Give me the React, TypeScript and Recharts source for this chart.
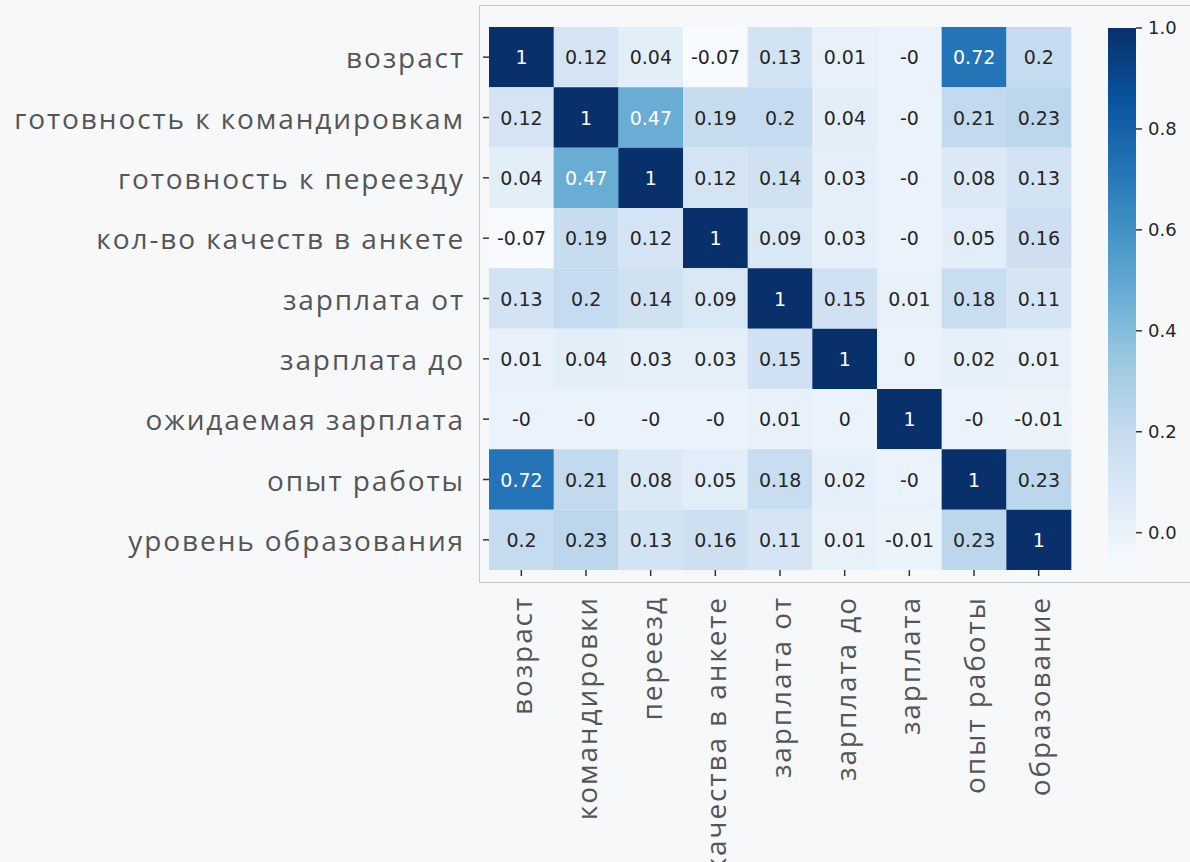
import React from "react";
import { BarChart, Bar, XAxis, YAxis, Cell, LabelList } from "recharts";

const rowLabels = [
  "возраст",
  "готовность к командировкам",
  "готовность к переезду",
  "кол-во качеств в анкете",
  "зарплата от",
  "зарплата до",
  "ожидаемая зарплата",
  "опыт работы",
  "уровень образования",
];

const colLabels = [
  "возраст",
  "командировки",
  "переезд",
  "качества в анкете",
  "зарплата от",
  "зарплата до",
  "зарплата",
  "опыт работы",
  "образование",
];

// correlation rows (small negatives shown as "-0")
const rowAge = [1, 0.12, 0.04, -0.07, 0.13, 0.01, -0.002, 0.72, 0.2];
const rowTrips = [0.12, 1, 0.47, 0.19, 0.2, 0.04, -0.002, 0.21, 0.23];
const rowMove = [0.04, 0.47, 1, 0.12, 0.14, 0.03, -0.002, 0.08, 0.13];
const rowQual = [-0.07, 0.19, 0.12, 1, 0.09, 0.03, -0.002, 0.05, 0.16];
const rowSalFrom = [0.13, 0.2, 0.14, 0.09, 1, 0.15, 0.01, 0.18, 0.11];
const rowSalTo = [0.01, 0.04, 0.03, 0.03, 0.15, 1, 0.002, 0.02, 0.01];
const rowSalExp = [-0.002, -0.002, -0.002, -0.002, 0.01, 0.002, 1, -0.002, -0.01];
const rowExp = [0.72, 0.21, 0.08, 0.05, 0.18, 0.02, -0.002, 1, 0.23];
const rowEdu = [0.2, 0.23, 0.13, 0.16, 0.11, 0.01, -0.01, 0.23, 1];

const matrix = [rowAge, rowTrips, rowMove, rowQual, rowSalFrom, rowSalTo, rowSalExp, rowExp, rowEdu];

const colorbarTicks = [0, 0.2, 0.4, 0.6, 0.8, 1.0];
const vmin = -0.07;
const vmax = 1;

const BLUES = ["#f7fbff", "#deebf7", "#c6dbef", "#9ecae1", "#6baed6", "#4292c6", "#2171b5", "#08519c", "#08306b"];

function hexToRgb(h: string) {
  return [parseInt(h.slice(1, 3), 16), parseInt(h.slice(3, 5), 16), parseInt(h.slice(5, 7), 16)];
}
function blues(t: number) {
  const tt = Math.max(0, Math.min(1, t));
  const pos = tt * (BLUES.length - 1);
  const i = Math.min(BLUES.length - 2, Math.floor(pos));
  const f = pos - i;
  const a = hexToRgb(BLUES[i]);
  const b = hexToRgb(BLUES[i + 1]);
  return a.map((v, k) => Math.round(v + (b[k] - v) * f));
}
function colorFor(v: number) {
  const c = blues((v - vmin) / (vmax - vmin));
  return `rgb(${c[0]},${c[1]},${c[2]})`;
}
function textColorFor(v: number) {
  const c = blues((v - vmin) / (vmax - vmin)).map((x) => {
    const s = x / 255;
    return s <= 0.03928 ? s / 12.92 : Math.pow((s + 0.055) / 1.055, 2.4);
  });
  const lum = 0.2126 * c[0] + 0.7152 * c[1] + 0.0722 * c[2];
  return lum > 0.408 ? "#262626" : "#ffffff";
}
function fmt(v: number) {
  const r = Math.round(v * 100) / 100;
  if (r === 0) return v < 0 ? "-0" : "0";
  return String(r);
}

const data = colLabels.map((name) => {
  const o: any = { name };
  rowLabels.forEach((_, r) => (o[`r${r}`] = 1));
  return o;
});

const LABEL_FONT = "'Open Sans', sans-serif";
const NUM_FONT = "'DejaVu Sans', sans-serif";

const YTick = (props: any) => {
  const { x, y, payload } = props;
  const idx = Math.floor(payload.value);
  return (
    <text
      x={x}
      y={y}
      textAnchor="end"
      dominantBaseline="central"
      fontFamily={LABEL_FONT}
      fontSize={28}
      letterSpacing={1.9}
      fill="#555555"
    >
      {rowLabels[idx]}
    </text>
  );
};

const XTick = (props: any) => {
  const { x, y, payload } = props;
  return (
    <text
      x={x}
      y={y}
      transform={`rotate(-90, ${x}, ${y})`}
      textAnchor="end"
      dominantBaseline="central"
      fontFamily={LABEL_FONT}
      fontSize={28}
      letterSpacing={1.9}
      fill="#555555"
    >
      {payload.value}
    </text>
  );
};

const makeAnnot = (r: number) => (props: any) => {
  const { x, y, width, height, index } = props;
  const v = matrix[r][index];
  return (
    <text
      x={x + width / 2}
      y={y + height / 2}
      textAnchor="middle"
      dominantBaseline="central"
      fontFamily={NUM_FONT}
      fontSize={19}
      fill={textColorFor(v)}
    >
      {fmt(v)}
    </text>
  );
};

const cbData = [{ name: "cb", range: [vmin, vmax] }];

export default function App() {
  return (
    <div
      style={{
        position: "fixed",
        left: 0,
        top: 0,
        width: 1190,
        height: 862,
        overflow: "hidden",
        background: "#f7f8fa",
      }}
    >
      <div
        style={{
          position: "absolute",
          left: 479,
          top: 5,
          width: 900,
          height: 576,
          borderTop: "1px solid #c9c9c9",
          borderLeft: "1px solid #c9c9c9",
          borderBottom: "1px solid #c9c9c9",
        }}
      />
      <div style={{ position: "absolute", left: 0, top: 0 }}>
        <BarChart
          width={1190}
          height={862}
          data={data}
          margin={{ top: 27, right: 119, bottom: 0, left: 0 }}
          barCategoryGap={0}
          barGap={0}
        >
          <XAxis
            dataKey="name"
            height={292}
            interval={0}
            tickSize={6}
            tickMargin={20}
            axisLine={false}
            tickLine={{ stroke: "#333333", strokeWidth: 1.5 }}
            tick={<XTick />}
          />
          <YAxis
            type="number"
            domain={[0, 9]}
            reversed
            ticks={[0.5, 1.5, 2.5, 3.5, 4.5, 5.5, 6.5, 7.5, 8.5]}
            interval={0}
            width={489}
            tickSize={6}
            tickMargin={18}
            axisLine={false}
            tickLine={{ stroke: "#333333", strokeWidth: 1.5 }}
            tick={<YTick />}
          />
          {rowLabels.map((_, r) => (
            <Bar key={r} dataKey={`r${r}`} stackId="a" isAnimationActive={false}>
              {colLabels.map((__, c) => (
                <Cell key={c} fill={colorFor(matrix[r][c])} />
              ))}
              <LabelList dataKey={`r${r}`} content={makeAnnot(r)} />
            </Bar>
          ))}
        </BarChart>
      </div>
      <div style={{ position: "absolute", left: 0, top: 0 }}>
        <BarChart
          width={1190}
          height={862}
          data={cbData}
          margin={{ top: 28, right: 0, bottom: 294, left: 1108 }}
          barCategoryGap={0}
        >
          <defs>
            <linearGradient id="cbGrad" x1="0" y1="1" x2="0" y2="0">
              {BLUES.map((c, i) => (
                <stop key={i} offset={`${(i / (BLUES.length - 1)) * 100}%`} stopColor={c} />
              ))}
            </linearGradient>
          </defs>
          <XAxis dataKey="name" hide />
          <YAxis
            orientation="right"
            type="number"
            domain={[vmin, vmax]}
            ticks={colorbarTicks}
            interval={0}
            width={54}
            tickSize={6}
            tickMargin={6}
            axisLine={false}
            tickLine={{ stroke: "#333333", strokeWidth: 1.5 }}
            tick={{ fontFamily: NUM_FONT, fontSize: 18, fill: "#262626" }}
            tickFormatter={(v: number) => v.toFixed(1)}
            allowDataOverflow
          />
          <Bar dataKey="range" fill="url(#cbGrad)" isAnimationActive={false} />
        </BarChart>
      </div>
    </div>
  );
}
